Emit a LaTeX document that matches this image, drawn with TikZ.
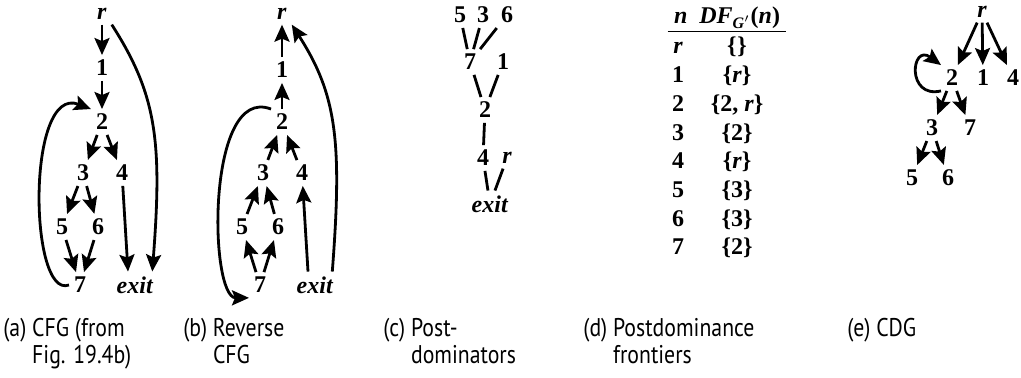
\documentclass[tikz,border=0pt]{standalone}
\usepackage{fontspec}
\setmainfont{Liberation Serif}
\newfontfamily\capfont[FakeStretch=0.85]{PT Sans}
\usetikzlibrary{arrows.meta}
\begin{document}
\begin{tikzpicture}[x=0.5pt,y=-0.5pt,
	vtx/.style={inner sep=2.3pt,font=\fontsize{12}{14}\selectfont\bfseries},
	arr/.style={-{Stealth[length=8.5pt,width=7.5pt,inset=1.5pt]},line width=1.4pt},
	tree/.style={line width=1.4pt},
	cell/.style={inner sep=1pt,anchor=base,font=\fontsize{12}{14}\selectfont\bfseries},
	capt/.style={inner sep=0pt,anchor=north west,align=left,font=\capfont\fontsize{12.8}{13.6}\selectfont}]
	\useasboundingbox (0,0) rectangle (1021,378);
	% (a) CFG
	\node[vtx] (ar) at (102,14) {\textit{r}};
	\node[vtx] (a1) at (102,68) {1};
	\node[vtx] (a2) at (102,122) {2};
	\node[vtx] (a3) at (83,173) {3};
	\node[vtx] (a4) at (122,173) {4};
	\node[vtx] (a5) at (62,227) {5};
	\node[vtx] (a6) at (98,227) {6};
	\node[vtx] (a7) at (80,285) {7};
	\node[vtx] (aexit) at (135,285) {\textit{exit}};
	\draw[arr] (ar) -- (a1);
	\draw[arr] (a1) -- (a2);
	\draw[arr] (a2) -- (a3);
	\draw[arr] (a2) -- (a4);
	\draw[arr] (a3) -- (a5);
	\draw[arr] (a3) -- (a6);
	\draw[arr] (a5) -- (a7);
	\draw[arr] (a6) -- (a7);
	\draw[arr] (a4) -- ([xshift=-3.5pt]aexit.north);
	\draw[arr] (ar.south east) .. controls +(45,70) and +(10,-130) .. ([xshift=-3pt]aexit.north east);
	\draw[arr] (a7.west) .. controls +(-40,15) and +(-65,-25) .. (a2.north west);
	% (b) reverse CFG
	\node[vtx] (br) at (282,14) {\textit{r}};
	\node[vtx] (b1) at (282,70) {1};
	\node[vtx] (b2) at (282,122) {2};
	\node[vtx] (b3) at (263,173) {3};
	\node[vtx] (b4) at (302,173) {4};
	\node[vtx] (b5) at (242,227) {5};
	\node[vtx] (b6) at (278,227) {6};
	\node[vtx] (b7) at (260,285) {7};
	\node[vtx] (bexit) at (315,285) {\textit{exit}};
	\draw[arr] (b1) -- (br);
	\draw[arr] (b2) -- (b1);
	\draw[arr] (b3) -- (b2);
	\draw[arr] (b4) -- (b2);
	\draw[arr] (b5) -- (b3);
	\draw[arr] (b6) -- (b3);
	\draw[arr] (b7) -- (b5);
	\draw[arr] (b7) -- (b6);
	\draw[arr] ([xshift=-3.5pt]bexit.north) -- (b4);
	\draw[arr] ([xshift=-3pt]bexit.north east) .. controls +(10,-130) and +(45,70) .. (br.south east);
	\draw[arr] (b2.north west) .. controls +(-65,-25) and +(-40,0) .. (b7.south west);
	% (c) postdominators
	\node[vtx] (c5) at (460,15) {5};
	\node[vtx] (c3) at (483,15) {3};
	\node[vtx] (c6) at (507,15) {6};
	\node[vtx] (c7) at (470,62) {7};
	\node[vtx] (c1) at (503,62) {1};
	\node[vtx] (c2) at (485,110) {2};
	\node[vtx] (c4) at (483,158) {4};
	\node[vtx] (cr) at (507,158) {\textit{r}};
	\node[vtx] (cexit) at (490,204) {\textit{exit}};
	\draw[tree] (c7) -- (c5);
	\draw[tree] (c7) -- (c3);
	\draw[tree] (c7) -- (c6);
	\draw[tree] (c2) -- (c7);
	\draw[tree] (c2) -- (c1);
	\draw[tree] (c2) -- (c4);
	\draw[tree] (cexit) -- (c4);
	\draw[tree] (cexit) -- (cr);
	% (d) postdominance frontiers
	\node[cell] (dhead) at (727,24) {\textit{n}\ \ \textit{DF}\textsubscript{\textit{G}$'$}(\textit{n})};
	\draw[line width=0.8pt] ([xshift=-2pt]dhead.south west) -- ([xshift=2pt]dhead.south east);
	\foreach \n/\df [count=\i] in {\textit{r}/{\{\hspace{0.5pt}\}},1/{\{\textit{r}\}},2/{\{2, \textit{r}\}},3/{\{2\}},4/{\{\textit{r}\}},5/{\{3\}},6/{\{3\}},7/{\{2\}}}{
		\node[cell] (dn\i) at (678,{54+28.7*(\i-1)}) {\n};
		\node[cell] (ddf\i) at (737,{54+28.7*(\i-1)}) {\df};
	}
	% (e) CDG
	\node[vtx] (er) at (982,12) {\textit{r}};
	\node[vtx] (e2) at (952,78) {2};
	\node[vtx] (e1) at (983,78) {1};
	\node[vtx] (e4) at (1013,78) {4};
	\node[vtx] (e3) at (932,128) {3};
	\node[vtx] (e7) at (970,128) {7};
	\node[vtx] (e5) at (912,178) {5};
	\node[vtx] (e6) at (948,178) {6};
	\draw[arr] (er) -- (e2);
	\draw[arr] (er) -- (e1);
	\draw[arr] (er) -- (e4);
	\draw[arr] (e2) -- (e3);
	\draw[arr] (e2) -- (e7);
	\draw[arr] (e3) -- (e5);
	\draw[arr] (e3) -- (e6);
	\draw[arr] (e2.south west) .. controls +(-35,8) and +(-30,-22) .. (e2.north west);
	% captions
	\node[capt] (capa) at (3,318) {(a) CFG (from\\\phantom{(a) }Fig. 19.4b)};
	\node[capt] (capb) at (183,318) {(b) Reverse\\\phantom{(b) }CFG};
	\node[capt] (capc) at (383,318) {(c) Post-\\\phantom{(c) }dominators};
	\node[capt] (capd) at (583,318) {(d) Postdominance\\\phantom{(d) }frontiers};
	\node[capt] (cape) at (847,318) {(e) CDG};
\end{tikzpicture}
\end{document}
